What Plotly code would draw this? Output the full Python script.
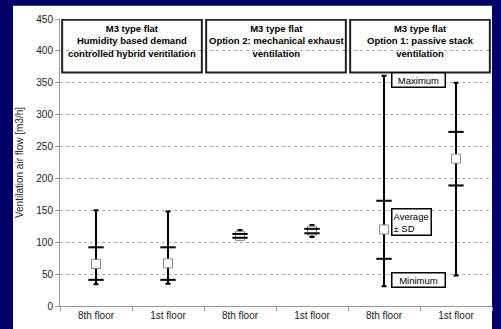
import plotly.graph_objects as go

categories = ["8th floor", "1st floor", "8th floor", "1st floor", "8th floor", "1st floor"]
avg_values = [66, 67, 110, 118, 120, 231]
sd_upper = [92, 92, 113, 121, 165, 273]
sd_lower = [41, 41, 107, 114, 74, 189]
max_values = [150, 148, 119, 127, 361, 350]
min_values = [34, 35, 104, 108, 31, 48]
y_ticks = [0, 50, 100, 150, 200, 250, 300, 350, 400, 450]
group_titles = [
    "M3 type flat<br>Humidity based demand<br>controlled hybrid ventilation",
    "M3 type flat<br>Option 2: mechanical exhaust<br>ventilation",
    "M3 type flat<br>Option 1: passive stack<br>ventilation",
]
group_spans = [(0, 1), (2, 3), (4, 5)]

xs = list(range(len(categories)))
FONT = "Liberation Sans, Arial, sans-serif"
NAVY = "#000068"

fig = go.Figure()

# Min-max whiskers
fig.add_trace(go.Scatter(
    x=xs, y=avg_values, mode="markers",
    marker=dict(size=1, color="rgba(0,0,0,0)"),
    error_y=dict(type="data", symmetric=False,
                 array=[mx - a for mx, a in zip(max_values, avg_values)],
                 arrayminus=[a - mn for a, mn in zip(avg_values, min_values)],
                 color="black", thickness=2, width=2.5),
    showlegend=False, hoverinfo="skip"))

# Average markers
fig.add_trace(go.Scatter(
    x=xs, y=avg_values, mode="markers",
    marker=dict(symbol="square", size=9, color="white",
                line=dict(color="#8a8a8a", width=1)),
    showlegend=False))

# SD caps
fig.add_trace(go.Scatter(
    x=xs + xs, y=sd_upper + sd_lower, mode="markers",
    marker=dict(symbol="line-ew", size=11,
                line=dict(color="black", width=2)),
    showlegend=False, hoverinfo="skip"))

shapes = [
    dict(type="rect", xref="paper", yref="paper",
         x0=-0.1088, x1=1.0, y0=-0.1, y1=1.0464,
         fillcolor="white", line=dict(width=0), layer="below"),
]
annotations = []
for title, (a, b) in zip(group_titles, group_spans):
    shapes.append(dict(type="rect", xref="x", yref="y",
                       x0=a - 0.5 + 0.03, x1=b + 0.5 - 0.03, y0=366, y1=449,
                       line=dict(color="#222", width=2), fillcolor="rgba(0,0,0,0)"))
    annotations.append(dict(x=(a + b) / 2, y=447, xref="x", yref="y",
                            text="<b>" + title.replace("<br>", "</b><br><b>") + "</b>",
                            showarrow=False, yanchor="top",
                            font=dict(family=FONT, size=9.5, color="black")))

label_font = dict(family=FONT, size=9.5, color="black")
annotations.append(dict(x=4.479, y=354, xref="x", yref="y", text="Maximum",
                        showarrow=False, font=label_font, bgcolor="white",
                        bordercolor="black", borderwidth=1.5, borderpad=1, width=50))
annotations.append(dict(x=4.375, y=132, xref="x", yref="y", text="Average<br>± SD",
                        showarrow=False, font=label_font, bgcolor="white", align="left",
                        bordercolor="black", borderwidth=1.5, borderpad=1, width=36))
annotations.append(dict(x=4.479, y=40, xref="x", yref="y", text="Minimum",
                        showarrow=False, font=label_font, bgcolor="white",
                        bordercolor="black", borderwidth=1.5, borderpad=1, width=50))

fig.update_layout(
    template="none",
    width=501, height=329,
    margin=dict(l=60, r=9, t=19, b=23, autoexpand=False),
    paper_bgcolor=NAVY,
    plot_bgcolor="white",
    font=dict(family=FONT, size=10, color="#222"),
    shapes=shapes,
    annotations=annotations,
    hovermode=False,
    xaxis=dict(range=[-0.5, 5.5], tickmode="array", tickvals=xs, ticktext=categories,
               automargin=False,
               ticks="", showgrid=False, zeroline=False,
               showline=True, linecolor="#999", linewidth=1,
               tickfont=dict(family=FONT, size=10, color="#222"),
               minor=dict(tickmode="linear", tick0=0.5, dtick=1, ticks="outside",
                          ticklen=4, tickcolor="#999", showgrid=False)),
    yaxis=dict(range=[0, 450], tickmode="array", tickvals=y_ticks,
               automargin=False,
               ticks="outside", ticklen=4, tickcolor="#999",
               showline=True, linecolor="#999", linewidth=1,
               showgrid=True, gridcolor="#aaaaaa", griddash="dot", gridwidth=1,
               zeroline=False,
               tickfont=dict(family=FONT, size=10, color="#222"),
               title=dict(text="Ventilation air flow [m3/h]", standoff=10,
                          font=dict(family=FONT, size=10, color="#222"))),
)

fig.write_html(
    "out.html",
    config={"displayModeBar": False},
    post_script="document.body.style.margin='0';document.body.style.background='" + NAVY + "';",
)
